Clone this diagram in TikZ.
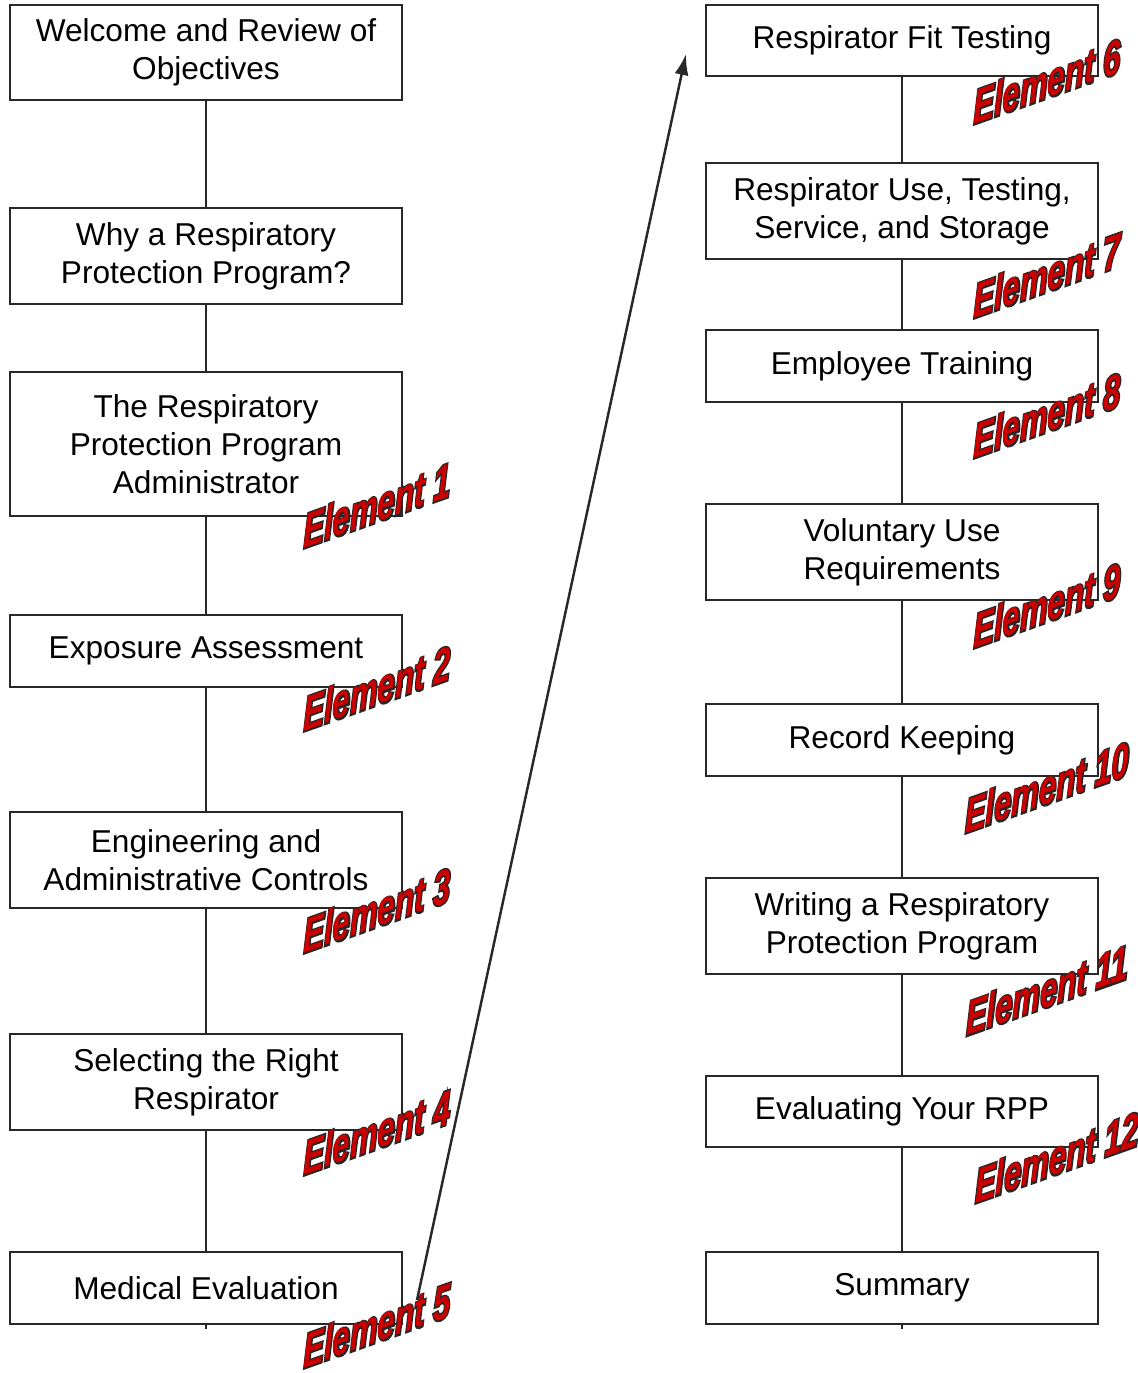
\documentclass[tikz,border=0pt]{standalone}
\usepackage{fontspec}
\setmainfont{Liberation Sans}
\newfontfamily\elemfont{Liberation Sans Bold Italic}
\newfontfamily\elemedge[FakeBold=7]{Liberation Sans Bold Italic}
\usepackage{xcolor}
\usetikzlibrary{arrows.meta}
\definecolor{elemred}{RGB}{204,0,0}
\definecolor{boxline}{RGB}{40,40,40}

\tikzset{
  box/.style={draw=boxline,line width=1.1pt,minimum width=7.84cm,align=center,
    inner sep=0pt,font=\fontsize{18}{21.5}\selectfont},
  elem/.style={font=\fontsize{26}{28}\selectfont,
    xscale=0.68,yscale=1.05,yslant=0.23,transform shape,inner sep=0pt},
  link/.style={draw=boxline,line width=0.9pt}
}
\newcommand{\elemtext}[1]{\makebox[0pt][l]{\elemedge\textcolor{black!85}{Element #1}}%
  {\elemfont\textcolor{elemred}{Element #1}}}

\begin{document}
\begin{tikzpicture}[x=0.02cm,y=-0.02cm]
\useasboundingbox (0,0) rectangle (1137,1373);

% left column
\node[box,minimum height=1.9cm]  (wel) at (206,52.5) {Welcome and Review of\\Objectives};
\node[box,minimum height=1.92cm] (why) at (206,256)  {Why a Respiratory\\Protection Program?};
\node[box,minimum height=2.88cm] (adm) at (206,444)  {The Respiratory\\Protection Program\\Administrator};
\node[box,minimum height=1.44cm] (exp) at (206,651)  {Exposure Assessment};
\node[box,minimum height=1.92cm] (eng) at (206,860)  {Engineering and\\Administrative Controls};
\node[box,minimum height=1.92cm] (sel) at (206,1082) {Selecting the Right\\Respirator};
\node[box,minimum height=1.44cm] (med) at (206,1288) {Medical Evaluation};
\coordinate (medend) at (206,1329);

% right column
\node[box,minimum height=1.42cm] (fit) at (902,40.5)  {Respirator Fit Testing};
\node[box,minimum height=1.92cm] (use) at (902,211)   {Respirator Use, Testing,\\Service, and Storage};
\node[box,minimum height=1.44cm] (trn) at (902,366)   {Employee Training};
\node[box,minimum height=1.92cm] (vol) at (902,552)   {Voluntary Use\\Requirements};
\node[box,minimum height=1.44cm] (rec) at (902,740)   {Record Keeping};
\node[box,minimum height=1.92cm] (wri) at (902,926)   {Writing a Respiratory\\Protection Program};
\node[box,minimum height=1.42cm] (evl) at (902,1111.5) {Evaluating Your RPP};
\node[box,minimum height=1.44cm] (sum) at (902,1288)  {Summary};
\coordinate (sumend) at (902,1329);

% connectors
\draw[link] (wel) -- (why);
\draw[link] (why) -- (adm);
\draw[link] (adm) -- (exp);
\draw[link] (exp) -- (eng);
\draw[link] (eng) -- (sel);
\draw[link] (sel) -- (med);
\draw[link] (med) -- (medend);
\draw[link] (fit) -- (use);
\draw[link] (use) -- (trn);
\draw[link] (trn) -- (vol);
\draw[link] (vol) -- (rec);
\draw[link] (rec) -- (wri);
\draw[link] (wri) -- (evl);
\draw[link] (evl) -- (sum);
\draw[link] (sum) -- (sumend);

% jump to second column
\coordinate (jmpa) at (417,1300);
\coordinate (jmpb) at (686,54);
\draw[link,line width=1.4pt,-{Latex[length=0.42cm,width=0.28cm]}] (jmpa) -- (jmpb);

% element labels
\node[elem] (e1)  at (377,505)  {\elemtext{1}};
\node[elem] (e2)  at (377,688)  {\elemtext{2}};
\node[elem] (e3)  at (377,910)  {\elemtext{3}};
\node[elem] (e4)  at (377,1132) {\elemtext{4}};
\node[elem] (e5)  at (377,1325) {\elemtext{5}};
\node[elem] (e6)  at (1047,81)  {\elemtext{6}};
\node[elem] (e7)  at (1047,275) {\elemtext{7}};
\node[elem] (e8)  at (1047,415) {\elemtext{8}};
\node[elem] (e9)  at (1047,605) {\elemtext{9}};
\node[elem] (e10) at (1047,787) {\elemtext{10}};
\node[elem] (e11) at (1047,990) {\elemtext{11}};
\node[elem] (e12) at (1057,1157) {\elemtext{12}};
\end{tikzpicture}
\end{document}
